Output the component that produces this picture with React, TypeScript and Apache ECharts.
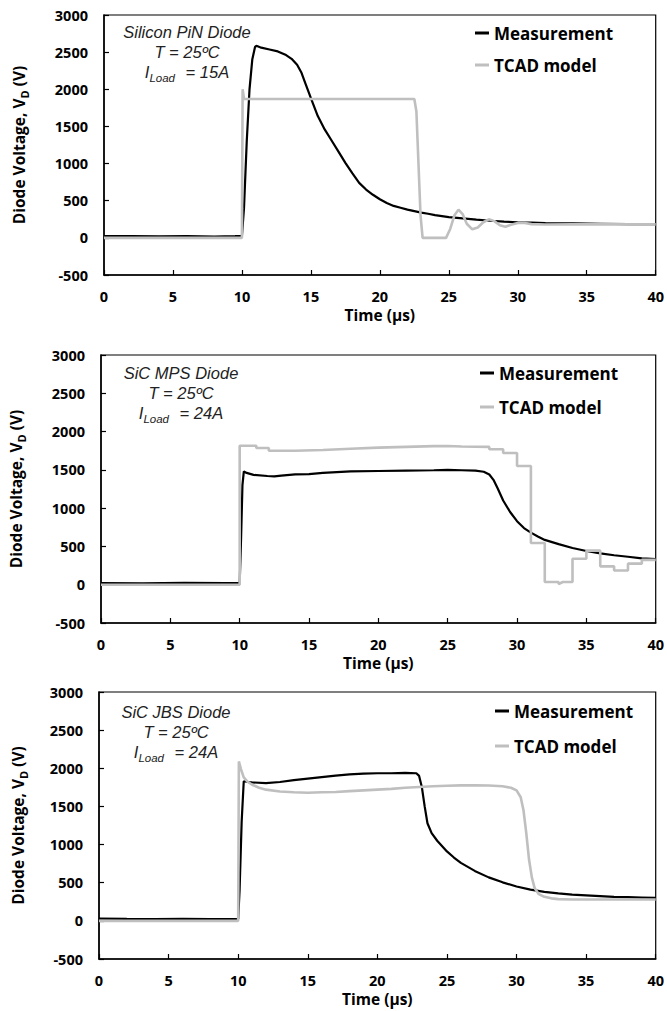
import React, { useEffect, useRef } from "react";
import * as echarts from "echarts";

// ---------- axis ticks ----------
const timeTicks = [0, 5, 10, 15, 20, 25, 30, 35, 40];
const voltTicks = [-500, 0, 500, 1000, 1500, 2000, 2500, 3000];

// ---------- series names ----------
const seriesNames = ["Measurement", "TCAD model"];

// ---------- Panel 1: Silicon PiN diode ----------
const pinMeasured: number[][] = [
  [0, 22], [2, 25], [4, 20], [6, 22], [8, 18], [9.5, 22], [10.0, 25],
  [10.15, 400], [10.35, 1300], [10.55, 2000], [10.75, 2400], [10.95, 2570],
  [11.05, 2585], [11.4, 2560], [12, 2535], [12.6, 2510], [13.2, 2460],
  [13.6, 2410], [14.0, 2330], [14.3, 2230], [14.6, 2080], [15.0, 1880],
  [15.5, 1640], [16.0, 1460], [16.5, 1310], [17.0, 1160], [17.5, 1010],
  [18.0, 870], [18.5, 740], [19.0, 650], [19.5, 580], [20.0, 520],
  [20.5, 470], [21, 430], [21.5, 405], [22, 380], [22.5, 360], [23, 340],
  [23.5, 325], [24, 305], [25, 280], [26, 262], [27, 245], [28, 230],
  [29, 218], [30, 210], [31, 205], [32, 200], [34, 195], [36, 190],
  [38, 185], [40, 185],
];
const pinTcad: number[][] = [
  [0, 0], [10, 0], [10.05, 2000], [10.15, 1870], [15, 1870], [20, 1870],
  [22.5, 1870], [22.65, 1700], [22.8, 1000], [22.95, 300], [23.1, 0],
  [24.8, 0], [25.1, 120], [25.4, 300], [25.7, 380], [26.0, 320], [26.3, 190],
  [26.7, 115], [27.1, 140], [27.5, 210], [27.9, 250], [28.3, 225],
  [28.7, 170], [29.1, 150], [29.5, 175], [30, 200], [30.5, 200], [31, 185],
  [32, 180], [34, 182], [40, 182],
];

// ---------- Panel 2: SiC MPS diode ----------
const mpsMeasured: number[][] = [
  [0, 20], [3, 18], [6, 25], [9, 20], [10.0, 20], [10.1, 600], [10.2, 1300],
  [10.3, 1480], [10.5, 1460], [11, 1435], [12, 1420], [12.5, 1415],
  [13, 1425], [14, 1440], [15, 1445], [16, 1460], [17, 1470], [18, 1480],
  [20, 1485], [22, 1490], [24, 1495], [25, 1500], [26, 1495], [27, 1490],
  [27.6, 1475], [28.0, 1440], [28.3, 1370], [28.6, 1260], [29, 1100],
  [29.5, 950], [30, 830], [30.5, 740], [31, 680], [31.5, 630], [32, 585],
  [33, 530], [34, 480], [35, 440], [36, 410], [37, 385], [38, 365],
  [39, 345], [40, 335],
];
const mpsTcad: number[][] = [
  [0, 0], [10, 0], [10, 1815], [11.2, 1815], [11.2, 1785], [12.1, 1785],
  [12.1, 1750], [14, 1750], [16, 1760], [18, 1775], [20, 1790], [22, 1800],
  [24, 1810], [25, 1812], [26, 1805], [28, 1800], [28, 1770], [29, 1770],
  [29, 1720], [30, 1720], [30, 1550], [31, 1550], [31, 545], [32, 545],
  [32, 35], [33, 35], [33, 10], [33.3, 35], [34, 35], [34, 340], [35, 340],
  [35, 445], [36, 445], [36, 240], [37, 240], [37, 185], [38, 185],
  [38, 275], [39, 275], [39, 325], [40, 325],
];

// ---------- Panel 3: SiC JBS diode ----------
const jbsMeasured: number[][] = [
  [0, 30], [2, 25], [4, 22], [6, 25], [8, 22], [10, 25], [10.1, 400],
  [10.25, 1300], [10.4, 1830], [10.7, 1820], [11, 1815], [12, 1805],
  [13, 1820], [14, 1845], [15, 1865], [16, 1885], [17, 1905], [18, 1920],
  [19, 1930], [20, 1935], [21, 1935], [22, 1940], [22.8, 1935], [23.0, 1900],
  [23.2, 1750], [23.4, 1500], [23.6, 1280], [23.9, 1150], [24.3, 1050],
  [25, 910], [25.5, 830], [26, 760], [27, 655], [28, 570], [29, 505],
  [30, 450], [31, 410], [32, 380], [33, 360], [34, 345], [35, 335],
  [36, 325], [37, 315], [38, 310], [39, 305], [40, 300],
];
const jbsTcad: number[][] = [
  [0, 0], [10, 0], [10.05, 2090], [10.2, 1990], [10.4, 1880], [10.7, 1820],
  [11, 1785], [11.5, 1745], [12, 1720], [13, 1695], [14, 1685], [15, 1680],
  [16, 1685], [17, 1690], [18, 1700], [19, 1710], [20, 1720], [21, 1730],
  [22, 1745], [23, 1755], [24, 1765], [25, 1772], [26, 1776], [27, 1778],
  [28, 1775], [29, 1765], [29.6, 1745], [30, 1710], [30.3, 1620],
  [30.5, 1450], [30.7, 1150], [30.9, 800], [31.1, 570], [31.3, 430],
  [31.6, 350], [32, 315], [32.5, 295], [33, 285], [34, 280], [40, 280],
];

// ---------- annotation texts ----------
const deviceNames = ["Silicon PiN Diode", "SiC MPS Diode", "SiC JBS Diode"];
const temperatures = ["25ºC", "25ºC", "25ºC"];
const loadCurrents = ["15A", "24A", "24A"];

const measuredSets = [pinMeasured, mpsMeasured, jbsMeasured];
const tcadSets = [pinTcad, mpsTcad, jbsTcad];

// ---------- layout (positions only) ----------
const layout = [
  { left: 104, top: 15, right: 11, height: 260, yNameGap: 74, xNameGap: 31, annX: 187, annY: [32, 52, 72], legLeft: 475, legTop: 23, legGap: 12 },
  { left: 99, top: 355, right: 10, height: 268, yNameGap: 74, xNameGap: 31, annX: 181, annY: [373, 393, 413], legLeft: 480, legTop: 363, legGap: 14 },
  { left: 99, top: 692, right: 10, height: 267, yNameGap: 70, xNameGap: 31, annX: 176, annY: [712, 732, 752], legLeft: 495, legTop: 701, legGap: 15 },
];

const BOLD_FONT = "'Open Sans', 'Noto Sans', sans-serif";
const ITALIC_FONT = "'Liberation Sans', Arial, sans-serif";
const BLACK = "#000000";
const GRAY = "#BFBFBF";

export default function App() {
  const ref = useRef<HTMLDivElement>(null);

  useEffect(() => {
    if (!ref.current) return;
    const chart = echarts.init(ref.current, undefined, { renderer: "svg" });

    const grids: any[] = [];
    const xAxes: any[] = [];
    const yAxes: any[] = [];
    const series: any[] = [];
    const legends: any[] = [];
    const graphics: any[] = [];

    layout.forEach((L, i) => {
      grids.push({
        left: L.left,
        top: L.top,
        right: L.right,
        height: L.height,
        show: true,
        borderColor: BLACK,
        borderWidth: 1.2,
        backgroundColor: "transparent",
      });
      xAxes.push({
        type: "value",
        gridIndex: i,
        min: timeTicks[0],
        max: timeTicks[timeTicks.length - 1],
        interval: timeTicks[1] - timeTicks[0],
        name: "Time (µs)",
        nameLocation: "middle",
        nameGap: L.xNameGap,
        nameTextStyle: { fontFamily: BOLD_FONT, fontWeight: "bold", fontSize: 15.5, lineHeight: 18, color: BLACK },
        axisLine: { show: true, onZero: false, lineStyle: { color: BLACK, width: 1.5 } },
        axisTick: { show: true, inside: true, length: 5, lineStyle: { color: BLACK, width: 1.2 } },
        axisLabel: { margin: 13, fontFamily: BOLD_FONT, fontWeight: "bold", fontSize: 14.5, lineHeight: 16, color: BLACK },
        splitLine: { show: false },
      });
      yAxes.push({
        type: "value",
        gridIndex: i,
        min: voltTicks[0],
        max: voltTicks[voltTicks.length - 1],
        interval: voltTicks[1] - voltTicks[0],
        name: "{b|Diode Voltage, V}{d|D}{b| (V)}",
        nameLocation: "middle",
        nameRotate: 90,
        nameGap: L.yNameGap,
        nameTextStyle: {
          color: BLACK,
          rich: {
            b: { fontFamily: BOLD_FONT, fontWeight: "bold", fontSize: 15.5, lineHeight: 22, color: BLACK },
            d: { fontFamily: BOLD_FONT, fontWeight: "bold", fontSize: 11, lineHeight: 14, verticalAlign: "bottom", color: BLACK },
          },
        },
        axisLine: { show: true, onZero: false, lineStyle: { color: BLACK, width: 1.5 } },
        axisTick: { show: true, inside: true, length: 5, lineStyle: { color: BLACK, width: 1.2 } },
        axisLabel: {
          margin: 16,
          fontFamily: BOLD_FONT,
          fontWeight: "bold",
          fontSize: 14.5,
          color: BLACK,
          formatter: (v: number) => String(v),
        },
        splitLine: { show: false },
      });
      series.push({
        type: "line",
        name: seriesNames[0],
        xAxisIndex: i,
        yAxisIndex: i,
        data: measuredSets[i],
        showSymbol: false,
        symbol: "none",
        color: BLACK,
        itemStyle: { color: BLACK },
        lineStyle: { color: BLACK, width: 2.2 },
        z: 3,
      });
      series.push({
        type: "line",
        name: seriesNames[1],
        xAxisIndex: i,
        yAxisIndex: i,
        data: tcadSets[i],
        showSymbol: false,
        symbol: "none",
        color: GRAY,
        itemStyle: { color: GRAY },
        lineStyle: { color: GRAY, width: 2.6 },
        z: 4,
      });
      legends.push({
        data: seriesNames,
        orient: "vertical",
        left: L.legLeft,
        top: L.legTop,
        itemGap: L.legGap,
        itemWidth: 14,
        itemHeight: 3,
        icon: "rect",
        selectedMode: false,
        padding: 0,
        textStyle: { fontFamily: BOLD_FONT, fontWeight: "bold", fontSize: 17, lineHeight: 20, color: BLACK },
      });
      const italic = { fontFamily: ITALIC_FONT, fontStyle: "italic", fontSize: 16.5, fill: "#222" };
      graphics.push({
        type: "text",
        style: { ...italic, text: deviceNames[i], x: L.annX, y: L.annY[0], align: "center", verticalAlign: "middle" },
      });
      graphics.push({
        type: "text",
        style: { ...italic, text: "T = " + temperatures[i], x: L.annX, y: L.annY[1], align: "center", verticalAlign: "middle" },
      });
      graphics.push({
        type: "text",
        style: {
          ...italic,
          text: "{n|I}{s|Load}{n| = " + loadCurrents[i] + "}",
          x: L.annX,
          y: L.annY[2],
          align: "center",
          verticalAlign: "middle",
          rich: {
            n: { fontFamily: ITALIC_FONT, fontStyle: "italic", fontSize: 16.5, lineHeight: 24, fill: "#222" },
            s: { fontFamily: ITALIC_FONT, fontStyle: "italic", fontSize: 11.5, lineHeight: 12, verticalAlign: "bottom", padding: [0, 6, 0, 0], fill: "#222" },
          },
        },
      });
    });

    chart.setOption({
      animation: false,
      backgroundColor: "#ffffff",
      grid: grids,
      xAxis: xAxes,
      yAxis: yAxes,
      legend: legends,
      series,
      graphic: graphics,
    });

    return () => chart.dispose();
  }, []);

  return (
    <div
      ref={ref}
      style={{ position: "fixed", left: 0, top: 0, width: 667, height: 1011, background: "#fff" }}
    />
  );
}
